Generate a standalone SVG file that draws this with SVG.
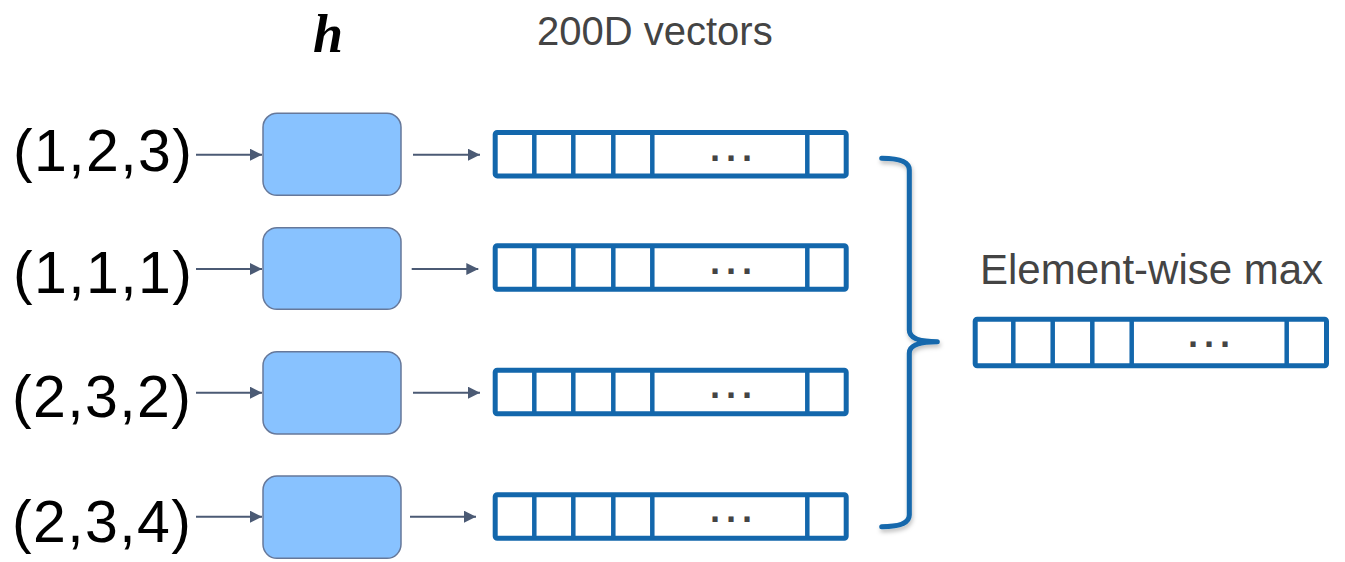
<svg xmlns="http://www.w3.org/2000/svg" width="1345" height="562" viewBox="0 0 1345 562">
<style>
  .inp { font-family: "Liberation Sans", Arial, sans-serif; font-size: 59px; fill: #000; }
  .lbl { font-family: "Liberation Sans", Arial, sans-serif; fill: #444; }
  .box { fill: #88C2FF; stroke: #66789A; stroke-width: 1.5; }
  .vec { fill: #fff; stroke: #1367AC; stroke-width: 5; }
  .div { stroke: #1367AC; stroke-width: 4.5; }
  .dots { font-family: "Liberation Sans", Arial, sans-serif; font-size: 36px; font-weight: bold; fill: #444; letter-spacing: 4px; }
  .conn { stroke: #4B5A74; stroke-width: 2; fill: none; }
</style>
<defs>
  <marker id="arr" viewBox="0 0 10 10" refX="10" refY="5" markerWidth="6" markerHeight="6" orient="auto" markerUnits="strokeWidth">
    <path d="M0,0 L10,5 L0,10 z" fill="#4B5A74"/>
  </marker>
  <filter id="sh" x="-20%" y="-5%" width="160%" height="115%">
    <feDropShadow dx="1" dy="3" stdDeviation="2" flood-color="#000" flood-opacity="0.25"/>
  </filter>
  <g id="vector">
    <rect class="vec" x="0" y="0" width="351" height="43.5" rx="2"/>
    <line class="div" x1="39.1" y1="0" x2="39.1" y2="43.5"/>
    <line class="div" x1="78.1" y1="0" x2="78.1" y2="43.5"/>
    <line class="div" x1="118.1" y1="0" x2="118.1" y2="43.5"/>
    <line class="div" x1="157.1" y1="0" x2="157.1" y2="43.5"/>
    <line class="div" x1="312.1" y1="0" x2="312.1" y2="43.5"/>
  </g>
</defs>
<rect width="1345" height="562" fill="#fff"/>

<g id="titles">
  <text x="313" y="52" font-family="'Liberation Serif', 'Times New Roman', serif" font-style="italic" font-weight="bold" font-size="54" fill="#000">h</text>
  <text class="lbl" x="537" y="45" font-size="40">200D vectors</text>
</g>

<g id="row1">
  <text class="inp" x="13" y="170.7" textLength="179" lengthAdjust="spacing">(1,2,3)</text>
  <rect class="box" x="263" y="113.3" width="138" height="82" rx="14"/>
  <use href="#vector" x="495.2" y="132.4"/>
  <text class="dots" x="710" y="170.7">···</text>
</g>
<g id="row2">
  <text class="inp" x="13" y="292.7" textLength="179" lengthAdjust="spacing">(1,1,1)</text>
  <rect class="box" x="263" y="227.7" width="138" height="81.6" rx="14"/>
  <use href="#vector" x="495.2" y="245.8"/>
  <text class="dots" x="710" y="284">···</text>
</g>
<g id="row3">
  <text class="inp" x="12" y="417.3" textLength="179" lengthAdjust="spacing">(2,3,2)</text>
  <rect class="box" x="263" y="351.7" width="138" height="82.3" rx="14"/>
  <use href="#vector" x="495.2" y="370.2"/>
  <text class="dots" x="710" y="407.7">···</text>
</g>
<g id="row4">
  <text class="inp" x="12" y="541.7" textLength="179" lengthAdjust="spacing">(2,3,4)</text>
  <rect class="box" x="263" y="476" width="138" height="82.3" rx="14"/>
  <use href="#vector" x="495.2" y="494.8"/>
  <text class="dots" x="710" y="532.3">···</text>
</g>

<g id="result">
  <text class="lbl" x="980" y="284" font-size="42">Element-wise max</text>
  <rect class="vec" x="975.2" y="319.2" width="351.3" height="46.6" rx="2"/>
  <line class="div" x1="1013.3" y1="319.2" x2="1013.3" y2="365.8"/>
  <line class="div" x1="1052.7" y1="319.2" x2="1052.7" y2="365.8"/>
  <line class="div" x1="1092.3" y1="319.2" x2="1092.3" y2="365.8"/>
  <line class="div" x1="1131.7" y1="319.2" x2="1131.7" y2="365.8"/>
  <line class="div" x1="1286.7" y1="319.2" x2="1286.7" y2="365.8"/>
  <text class="dots" x="1188" y="357">···</text>
</g>

<g id="connectors">
  <line class="conn" x1="196" y1="154.7" x2="262" y2="154.7" marker-end="url(#arr)"/>
  <line class="conn" x1="413" y1="154.7" x2="480" y2="154.7" marker-end="url(#arr)"/>
  <line class="conn" x1="196" y1="269" x2="262" y2="269" marker-end="url(#arr)"/>
  <line class="conn" x1="411.7" y1="269" x2="478.3" y2="269" marker-end="url(#arr)"/>
  <line class="conn" x1="196" y1="392.7" x2="262" y2="392.7" marker-end="url(#arr)"/>
  <line class="conn" x1="413" y1="392.7" x2="480" y2="392.7" marker-end="url(#arr)"/>
  <line class="conn" x1="196" y1="516.7" x2="262" y2="516.7" marker-end="url(#arr)"/>
  <line class="conn" x1="410" y1="516.7" x2="476" y2="516.7" marker-end="url(#arr)"/>
  <path id="brace" d="M881.7 158.3 Q909.3 158.3 909.3 170 V330 Q909.3 341.7 937.3 341.7 Q909.3 341.7 909.3 353 V515 Q909.3 526.7 881.7 526.7" fill="none" stroke="#1367AC" stroke-width="5" stroke-linecap="round" stroke-linejoin="round" filter="url(#sh)"/>
</g>
</svg>
